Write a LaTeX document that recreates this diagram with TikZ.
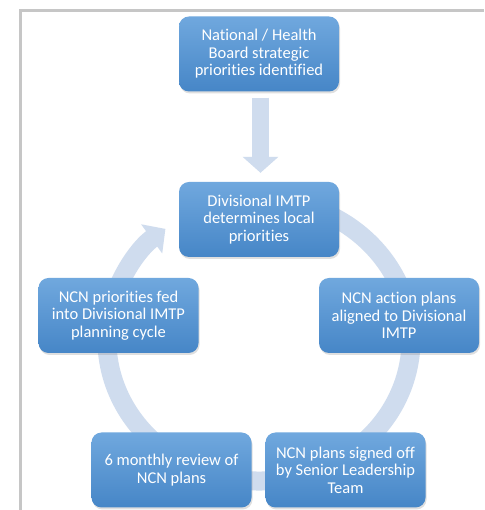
\documentclass[tikz,border=0pt]{standalone}
\usepackage{fontspec}
\setmainfont[Ligatures=NoCommon]{Carlito}
\usetikzlibrary{arrows.meta,shadows}
\definecolor{boxtop}{HTML}{70A8DE}
\definecolor{boxbot}{HTML}{4686C7}
\definecolor{ringblue}{HTML}{CFDCEE}
\definecolor{framegray}{HTML}{C6C6C6}
\tikzset{
  stepbox/.style={rounded corners=10pt, top color=boxtop, bottom color=boxbot,
    minimum width=160pt, minimum height=75pt, inner sep=0pt, align=center,
    text=white, font=\fontsize{16.5}{17.5}\selectfont,
    drop shadow={opacity=0.25, shadow xshift=1pt, shadow yshift=-2pt}},
  ringline/.style={draw=ringblue, line width=19pt},
}
\begin{document}
\begin{tikzpicture}[x=1pt,y=1pt]
\useasboundingbox (0,0) rectangle (484,510);
\fill[white] (0,0) rectangle (484,510);
\draw[framegray, line width=3pt] (20.5,0) -- (20.5,499) -- (484,499);
% cycle ring
\draw[ringline, -{Triangle[width=35pt,length=17pt]}]
  (259,170) ++(75:152 and 141) arc[start angle=75, end angle=-232, x radius=152, y radius=141];
% boxes
\node[stepbox] (top) at (259,456) {National / Health\\Board strategic\\priorities identified};
\node[stepbox] (cen) at (259,290.5) {Divisional IMTP\\determines local\\priorities};
\node[stepbox] (rgt) at (399,194.5) {NCN action plans\\aligned to Divisional\\IMTP};
\node[stepbox] (lft) at (118.5,194.5) {NCN priorities fed\\into Divisional IMTP\\planning cycle};
\node[stepbox] (bl) at (171.5,40) {6 monthly review of\\NCN plans};
\node[stepbox] (br) at (345.5,40) {NCN plans signed off\\by Senior Leadership\\Team};
% down arrow
\draw[draw=ringblue, line width=17pt, -{Triangle[width=35pt,length=16pt]}]
  ([xshift=1.5pt,yshift=-6pt]top.south) -- ([xshift=1.5pt,yshift=9pt]cen.north);
\end{tikzpicture}
\end{document}
